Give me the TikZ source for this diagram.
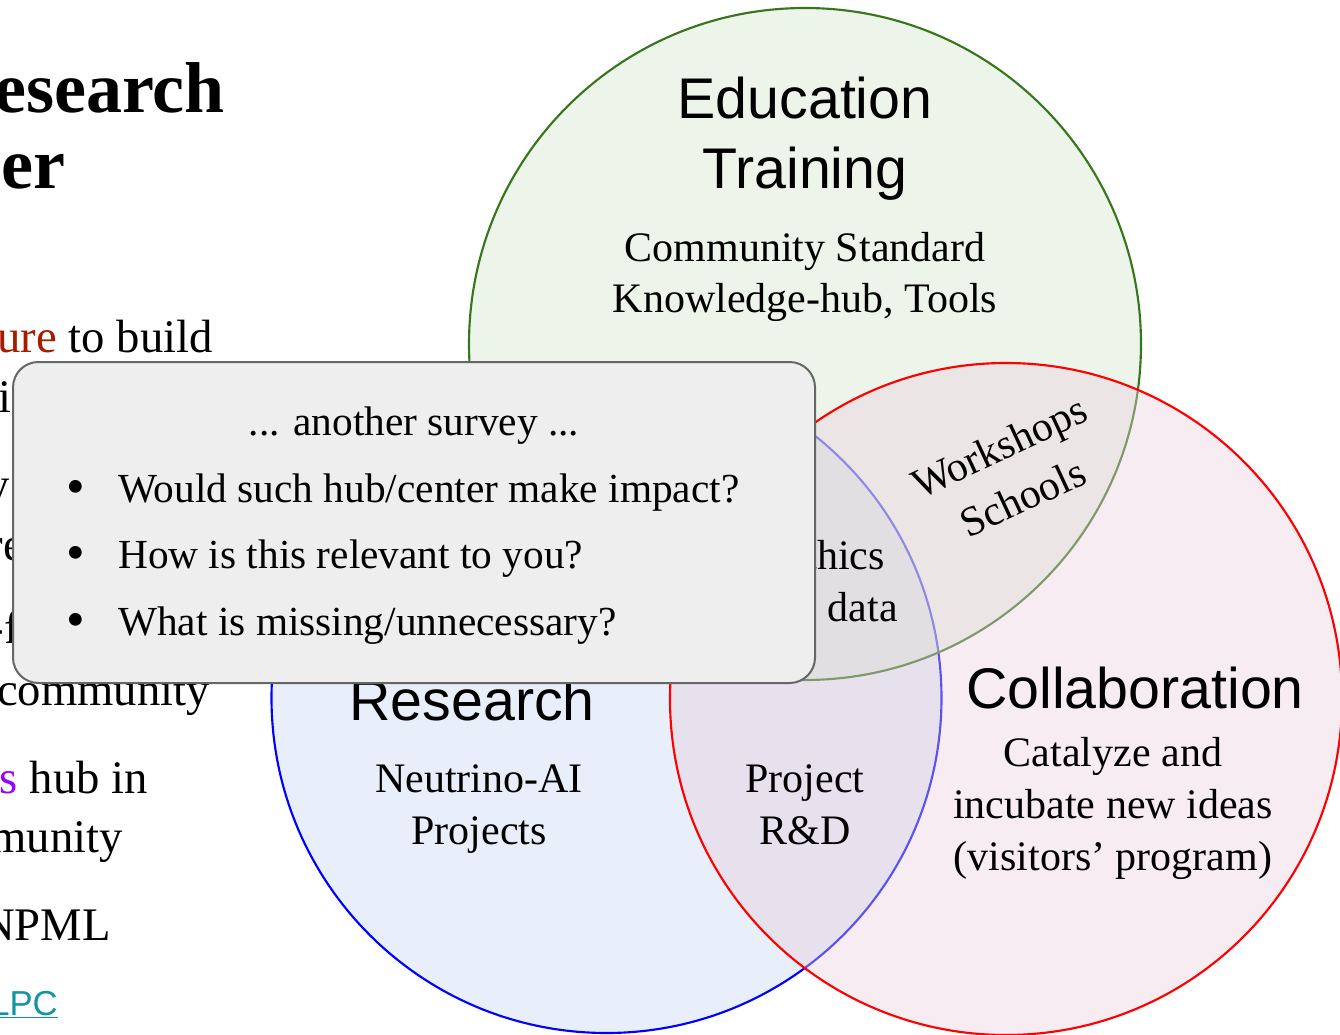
\documentclass[tikz,border=0pt]{standalone}
\usepackage{fontspec}
\setmainfont{Liberation Serif}
\newfontfamily\headfont{Liberation Sans}

\definecolor{edugreen}{RGB}{56,118,29}
\definecolor{edufill}{RGB}{210,230,202}
\definecolor{resfill}{RGB}{197,212,242}
\definecolor{colfill}{RGB}{232,207,222}
\definecolor{boxgray}{RGB}{238,238,238}
\definecolor{boxline}{RGB}{102,102,102}
\definecolor{berry}{RGB}{166,28,0}
\definecolor{hubviolet}{RGB}{153,0,255}
\definecolor{linkteal}{RGB}{18,147,166}

\newcommand{\headsize}{\headfont\fontsize{43}{52}\selectfont}
\newcommand{\bodysize}{\fontsize{31.5}{39}\selectfont}
\newcommand{\surveysize}{\fontsize{31}{37}\selectfont}
\newcommand{\slidesize}{\fontsize{35}{42}\selectfont}
\newcommand{\titlesize}{\bfseries\fontsize{54}{60}\selectfont}
\newcommand{\linksize}{\headfont\fontsize{26}{30}\selectfont}

\tikzstyle{venn} = [circle, minimum size=504pt, inner sep=0pt, line width=1.6pt, fill opacity=0.4]
\tikzstyle{head} = [font=\headsize, anchor=base, inner sep=0pt]
\tikzstyle{body} = [font=\bodysize, anchor=base, inner sep=0pt]
\tikzstyle{slide} = [font=\slidesize, anchor=base east, inner sep=0pt]
\tikzstyle{card} = [rectangle, draw=boxline, fill=boxgray, line width=1.5pt, rounded corners=19pt, minimum width=601.5pt, minimum height=240.75pt]
\tikzstyle{ask} = [font=\surveysize, anchor=base west, inner sep=0pt]
\tikzstyle{dot} = [font=\fontsize{40}{40}\selectfont, inner sep=0pt]

\begin{document}
\begin{tikzpicture}[x=0.75pt, y=-0.75pt]

\useasboundingbox (0, 0) rectangle (1340, 1035);
\clip (0, 0) rectangle (1340, 1035);

% slide text behind
\node [slide, font=\titlesize] (ttl1) at (225, 112) {esearch};
\node [slide, font=\titlesize] (ttl2) at (66, 188) {er};
\node [slide] (txt1) at (213, 352) {\textcolor{berry}{ure} to build};
\node [slide] (txt2) at (12, 412) {i};
\node [slide] (txt3) at (10, 500) {y};
\node [slide] (txt4) at (24, 560) {re};
\node [slide] (txt5) at (20, 643) {-f};
\node [slide] (txt6) at (210, 705) {community};
\node [slide] (txt7) at (148, 793) {\textcolor{hubviolet}{s} hub in};
\node [slide] (txt8) at (123, 852) {munity};
\node [slide] (txt9) at (111, 940) {NPML};
\node [slide, font=\linksize, text=linkteal] (txt10) at (58, 1015) {\underline{LPC}};

% venn
\node [venn, minimum size=502.5pt, draw=blue, fill=resfill] (res) at (606.5, 698) {};
\node [venn, draw=edugreen, fill=edufill] (edu) at (805, 344) {};
\node [venn, draw=red, fill=colfill] (col) at (1006, 699) {};

\node [head] (edu1) at (805, 118) {Education};
\node [head] (edu2) at (805, 188) {Training};
\node [body] (edu3) at (805, 261) {Community Standard};
\node [body] (edu4) at (805, 312) {Knowledge-hub, Tools};

\node [head] (res1) at (472, 720) {Research};
\node [body] (res2) at (479, 792) {Neutrino-AI};
\node [body] (res3) at (479, 844) {Projects};

\node [body] (pro1) at (805, 792) {Project};
\node [body] (pro2) at (805, 844) {R\&D};

\node [head] (col1) at (1135, 708) {Collaboration};
\node [body] (col2) at (1113, 766) {Catalyze and};
\node [body] (col3) at (1113, 818) {incubate new ideas};
\node [body] (col4) at (1113, 870) {(visitors’ program)};

\node [font=\bodysize, align=center, rotate=25, inner sep=0pt] (shop) at (1011, 472) {Workshops\\[3pt]Schools};

\node [body, anchor=base east] (mid1) at (885, 569) {thics};
\node [body, anchor=base east] (mid2) at (898, 621) {data};

% survey
\node [card] (survey) at (414, 522.5) {};
\node [font=\surveysize, anchor=base, inner sep=0pt] (ask0) at (414, 435) {... another survey ...};
\node [dot] (dot1) at (76, 492) {\textbullet};
\node [dot] (dot2) at (76, 558) {\textbullet};
\node [dot] (dot3) at (76, 625) {\textbullet};
\node [ask] (ask1) at (118, 502) {Would such hub/center make impact?};
\node [ask] (ask2) at (118, 568) {How is this relevant to you?};
\node [ask] (ask3) at (118, 635) {What is missing/unnecessary?};

\end{tikzpicture}
\end{document}
